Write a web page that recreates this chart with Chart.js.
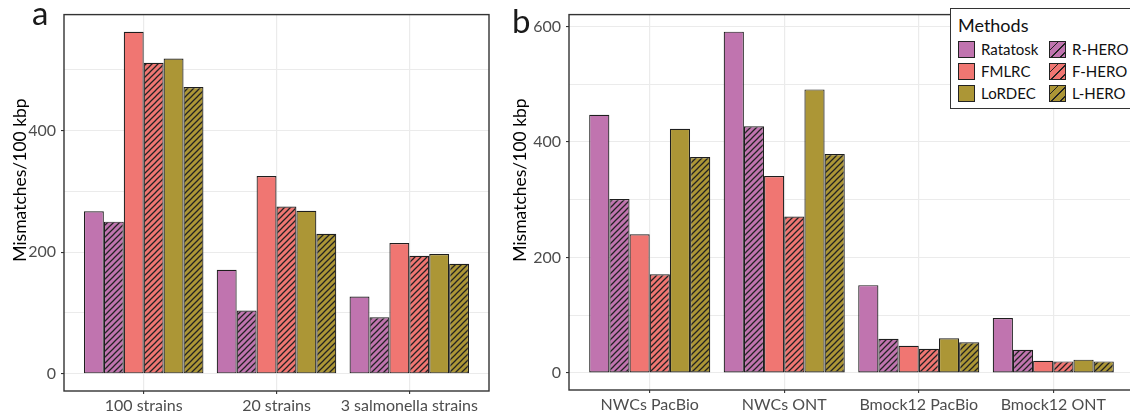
<!DOCTYPE html>
<html>
<head>
<meta charset="utf-8">
<script src="https://cdn.jsdelivr.net/npm/chart.js@4"></script>
<style>
  html, body { margin: 0; padding: 0; background: #fff; overflow: hidden; }
  body { width: 1130px; height: 418px; position: relative; font-family: Lato, sans-serif; }
  canvas { position: absolute; top: 0; }
  #chartA { left: 0; }
  #chartB { left: 500px; }
  .panel-tag { position: absolute; font-size: 33px; line-height: 1; color: #1a1a1a; }
  .ytitle { position: absolute; width: 240px; height: 20px; line-height: 20px; text-align: center;
            font-size: 17.5px; color: #000; transform: rotate(-90deg); transform-origin: 50% 50%; }
  #legend { position: absolute; left: 950px; top: 8px; width: 190px; height: 101px;
            border: 1.3px solid #333; background: #fff; box-sizing: border-box; }
  #legend .title { position: absolute; left: 7px; top: 5px; font-size: 18px; color: #111; }
  #legend .sw { position: absolute; width: 17px; height: 17px; border: 1.2px solid #222; box-sizing: border-box; }
  #legend .lbl { position: absolute; font-size: 15px; color: #111; line-height: 17px; }
</style>
</head>
<body>
<canvas id="chartA" width="500" height="418"></canvas>
<canvas id="chartB" width="634" height="418"></canvas>
<div class="panel-tag" style="left:32px; top:-4px;">a</div>
<div class="panel-tag" style="left:512px; top:4px;">b</div>
<div class="ytitle" style="left:-100px; top:170px;">Mismatches/100 kbp</div>
<div class="ytitle" style="left:400px; top:170px;">Mismatches/100 kbp</div>
<div id="legend"><div class="title">Methods</div></div>

<script>
// methods, in bar order
const methods = ['Ratatosk', 'R-HERO', 'FMLRC', 'F-HERO', 'LoRDEC', 'L-HERO'];
const methodColors = ['#C074AF', '#C074AF', '#F07672', '#F07672', '#AC9636', '#AC9636'];
const methodHatched = [false, true, false, true, false, true];

// panel a
const catsA = ['100 strains', '20 strains', '3 salmonella strains'];
const ratatoskA = [267, 171, 127];
const rheroA    = [250, 104, 93];
const fmlrcA    = [562, 325, 215];
const fheroA    = [511, 275, 194];
const lordecA   = [518, 268, 197];
const lheroA    = [471, 230, 181];
const yTicksA   = [0, 100, 200, 300, 400, 500];

// panel b
const catsB = ['NWCs PacBio', 'NWCs ONT', 'Bmock12 PacBio', 'Bmock12 ONT'];
const ratatoskB = [447, 591, 152, 95];
const rheroB    = [301, 427, 59, 40];
const fmlrcB    = [240, 341, 47, 21];
const fheroB    = [171, 271, 42, 20];
const lordecB   = [423, 491, 60, 23];
const lheroB    = [374, 379, 53, 20];
const yTicksB   = [0, 100, 200, 300, 400, 500, 600];

const tickGrey = '#4D4D4D';

function hatchPattern(ctx, color) {
  const s = 6;
  const tile = document.createElement('canvas');
  tile.width = tile.height = s;
  const g = tile.getContext('2d');
  g.fillStyle = color;
  g.fillRect(0, 0, s, s);
  g.strokeStyle = '#222';
  g.lineWidth = 1.25;
  g.beginPath();
  g.moveTo(0, s); g.lineTo(s, 0);
  g.moveTo(-1, 1); g.lineTo(1, -1);
  g.moveTo(s - 1, s + 1); g.lineTo(s + 1, s - 1);
  g.stroke();
  return ctx.createPattern(tile, 'repeat');
}

// ggplot-style panel border
const panelBorder = {
  id: 'panelBorder',
  afterDraw(chart) {
    const a = chart.chartArea, c = chart.ctx;
    c.save();
    c.strokeStyle = '#333';
    c.lineWidth = 1.4;
    c.strokeRect(a.left, a.top, a.right - a.left, a.bottom - a.top);
    c.restore();
  }
};

function drawPanel(id, cats, series, yTicks, box) {
  const canvas = document.getElementById(id);
  const ctx = canvas.getContext('2d');
  const allVals = [].concat(...series);
  const top = Math.max(...allVals);

  const datasets = series.map((vals, i) => ({
    label: methods[i],
    data: vals.map((v, j) => ({ x: j + 1, y: v })),
    backgroundColor: methodHatched[i] ? hatchPattern(ctx, methodColors[i]) : methodColors[i],
    borderColor: '#1e1e1e',
    borderWidth: 1.2,
    borderSkipped: false,
    categoryPercentage: 0.9,
    barPercentage: 1.0
  }));

  return new Chart(ctx, {
    type: 'bar',
    data: { datasets: datasets },
    options: {
      responsive: false,
      animation: false,
      layout: { padding: { top: box.top, right: box.right, bottom: 0, left: 0 } },
      plugins: { legend: { display: false }, tooltip: { enabled: false } },
      scales: {
        x: {
          type: 'linear',
          offset: false,
          min: 0.4,
          max: cats.length + 0.6,
          afterBuildTicks: s => { s.ticks = cats.map((c, i) => ({ value: i + 1 })); },
          afterFit: s => { s.height = box.xHeight; },
          grid: { offset: false, color: '#EBEBEB', lineWidth: 1.2, tickColor: '#333', tickLength: 3, tickWidth: 1.1 },
          border: { display: false },
          ticks: {
            autoSkip: false, maxRotation: 0, padding: 2,
            color: tickGrey, font: { family: 'Lato', size: 16 },
            callback: v => cats[v - 1]
          }
        },
        y: {
          min: -0.05 * top,
          max: 1.05 * top,
          afterBuildTicks: s => { s.ticks = yTicks.map(v => ({ value: v })); },
          afterFit: s => { s.width = box.yWidth; },
          grid: {
            color: '#EBEBEB', lineWidth: 1.1, tickLength: 3, tickWidth: 1.1,
            tickColor: c => (c.tick && c.tick.value % 200 === 0) ? '#333' : 'rgba(0,0,0,0)'
          },
          border: { display: false },
          ticks: {
            padding: 5, color: tickGrey, font: { family: 'Lato', size: 16 },
            callback: v => (v % 200 === 0 ? String(v) : '')
          }
        }
      }
    },
    plugins: [panelBorder]
  });
}

drawPanel('chartA', catsA, [ratatoskA, rheroA, fmlrcA, fheroA, lordecA, lheroA], yTicksA,
  { top: 8, right: 11, xHeight: 27, yWidth: 64 });
drawPanel('chartB', catsB, [ratatoskB, rheroB, fmlrcB, fheroB, lordecB, lheroB], yTicksB,
  { top: 8, right: 0, xHeight: 28, yWidth: 69 });

// html legend, two columns
const legend = document.getElementById('legend');
methods.forEach((m, i) => {
  const col = i % 2, row = Math.floor(i / 2);
  const sx = col === 0 ? 7 : 98;
  const sy = 32 + row * 22;
  const sw = document.createElement('div');
  sw.className = 'sw';
  sw.style.left = sx + 'px';
  sw.style.top = sy + 'px';
  sw.style.background = methodHatched[i]
    ? 'repeating-linear-gradient(135deg, ' + methodColors[i] + ' 0 5px, #222 5px 6.3px)'
    : methodColors[i];
  legend.appendChild(sw);
  const lb = document.createElement('div');
  lb.className = 'lbl';
  lb.style.left = (sx + 23) + 'px';
  lb.style.top = sy + 'px';
  lb.textContent = m;
  legend.appendChild(lb);
});
</script>
</body>
</html>
